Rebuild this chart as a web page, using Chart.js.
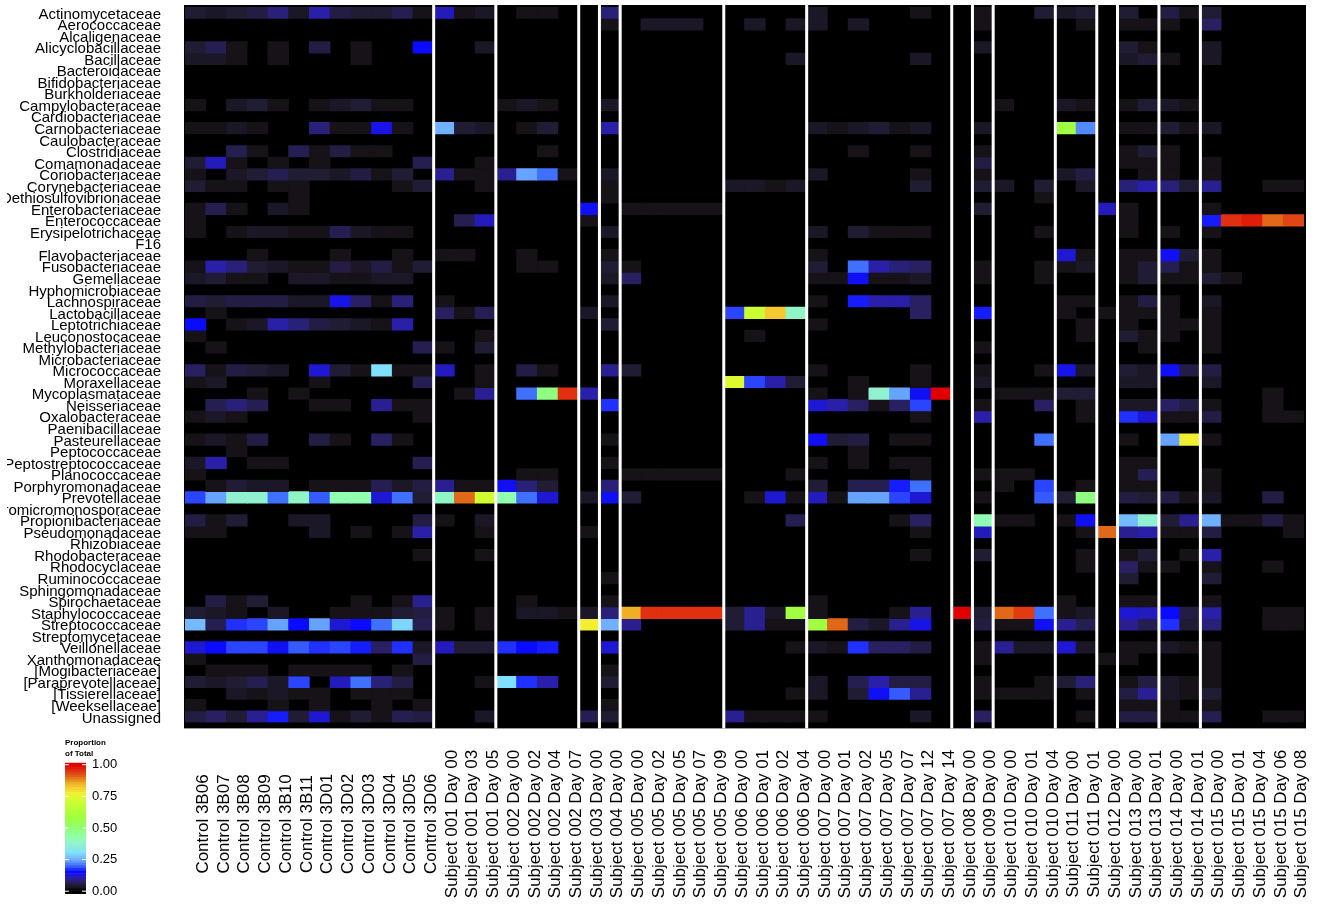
<!DOCTYPE html>
<html>
<head>
<meta charset="utf-8">
<style>
  html, body { margin: 0; padding: 0; background: #fff; }
  canvas { position: absolute; }
  #heatmap { left: 7px; top: 0; }
  #colorbar { left: 0; top: 730px; }
</style>
<script src="https://cdn.jsdelivr.net/npm/chart.js@4"></script>
</head>
<body>
<canvas id="heatmap" width="1326" height="924"></canvas>
<canvas id="colorbar" width="170" height="190"></canvas>
<script>
const families = ["Actinomycetaceae","Aerococcaceae","Alcaligenaceae","Alicyclobacillaceae","Bacillaceae","Bacteroidaceae","Bifidobacteriaceae","Burkholderiaceae","Campylobacteraceae","Cardiobacteriaceae","Carnobacteriaceae","Caulobacteraceae","Clostridiaceae","Comamonadaceae","Coriobacteriaceae","Corynebacteriaceae","Dethiosulfovibrionaceae","Enterobacteriaceae","Enterococcaceae","Erysipelotrichaceae","F16","Flavobacteriaceae","Fusobacteriaceae","Gemellaceae","Hyphomicrobiaceae","Lachnospiraceae","Lactobacillaceae","Leptotrichiaceae","Leuconostocaceae","Methylobacteriaceae","Microbacteriaceae","Micrococcaceae","Moraxellaceae","Mycoplasmataceae","Neisseriaceae","Oxalobacteraceae","Paenibacillaceae","Pasteurellaceae","Peptococcaceae","Peptostreptococcaceae","Planococcaceae","Porphyromonadaceae","Prevotellaceae","Promicromonosporaceae","Propionibacteriaceae","Pseudomonadaceae","Rhizobiaceae","Rhodobacteraceae","Rhodocyclaceae","Ruminococcaceae","Sphingomonadaceae","Spirochaetaceae","Staphylococcaceae","Streptococcaceae","Streptomycetaceae","Veillonellaceae","Xanthomonadaceae","[Mogibacteriaceae]","[Paraprevotellaceae]","[Tissierellaceae]","[Weeksellaceae]","Unassigned"];

const samples = ["Control 3B06","Control 3B07","Control 3B08","Control 3B09","Control 3B10","Control 3B11","Control 3D01","Control 3D02","Control 3D03","Control 3D04","Control 3D05","Control 3D06",
  "Subject 001 Day 00","Subject 001 Day 03","Subject 001 Day 05",
  "Subject 002 Day 00","Subject 002 Day 02","Subject 002 Day 04","Subject 002 Day 07",
  "Subject 003 Day 00","Subject 004 Day 00",
  "Subject 005 Day 00","Subject 005 Day 02","Subject 005 Day 05","Subject 005 Day 07","Subject 005 Day 09",
  "Subject 006 Day 00","Subject 006 Day 01","Subject 006 Day 02","Subject 006 Day 04",
  "Subject 007 Day 00","Subject 007 Day 01","Subject 007 Day 02","Subject 007 Day 05","Subject 007 Day 07","Subject 007 Day 12","Subject 007 Day 14",
  "Subject 008 Day 00","Subject 009 Day 00",
  "Subject 010 Day 00","Subject 010 Day 01","Subject 010 Day 04",
  "Subject 011 Day 00","Subject 011 Day 01","Subject 012 Day 00",
  "Subject 013 Day 00","Subject 013 Day 01","Subject 014 Day 00","Subject 014 Day 01",
  "Subject 015 Day 00","Subject 015 Day 01","Subject 015 Day 04","Subject 015 Day 06","Subject 015 Day 08"];

// first column of every group, a white rule goes in front of it
const groupStarts = [12,15,19,20,21,26,30,37,38,39,42,44,45,47,49];

// percent of total per family, sample index: value, empty cells left out
const rowPercents = [
  {0:4,1:3,2:4,3:5,4:8,5:3,6:10,7:5,8:4,9:4,10:6,11:2,12:11,13:2,14:3,16:2,17:2,20:8,30:3,35:2,38:2,41:4,42:3,43:4,45:4,47:5,48:2,49:4},
  {20:2,22:3,23:3,24:3,27:3,29:3,30:3,32:3,38:2,43:2,45:2,46:2,47:2,49:7},
  {},
  {0:4,1:6,2:2,4:2,6:5,8:2,11:15,14:3,38:3,45:4,46:2,49:3},
  {0:3,1:3,2:2,4:2,8:2,29:3,35:3,45:3,46:4,47:2,49:3},
  {},
  {},
  {},
  {0:2,2:3,3:4,4:2,6:2,7:3,8:4,9:2,10:2,15:2,16:3,17:2,20:3,39:2,42:3,43:2,45:2,46:4,47:3,48:2},
  {},
  {0:2,1:2,2:3,3:2,6:8,7:2,8:2,9:13,10:2,12:25,13:4,14:3,16:2,17:4,20:10,30:3,31:2,32:3,33:4,34:2,35:3,38:3,42:58,43:22,45:2,46:2,47:4,48:2,49:3},
  {},
  {2:6,3:2,5:6,6:2,7:5,8:2,9:2,17:2,32:2,35:2,38:2,45:2,46:4,47:2},
  {0:4,1:11,2:2,4:2,6:2,11:6,14:2,38:5,45:2,46:2,47:2,49:2},
  {0:2,2:3,3:4,4:6,5:4,6:4,7:3,8:5,9:2,10:4,12:9,13:2,14:2,15:9,16:24,17:20,18:2,20:3,30:3,35:2,38:2,42:3,43:5,46:2,47:2,49:2},
  {0:4,1:2,2:2,4:2,5:2,10:2,11:4,14:2,20:2,26:3,27:3,28:2,29:3,35:4,38:4,39:3,41:4,43:3,45:8,46:10,47:8,48:4,49:9,52:2,53:2},
  {5:2,20:2,41:2},
  {0:2,1:6,2:2,4:3,5:2,19:14,21:2,22:2,23:2,24:2,25:2,38:4,44:11,45:2,49:2},
  {0:2,13:6,14:11,19:2,45:2,49:16,50:95,51:97,52:90,53:93},
  {0:2,2:2,3:3,4:3,5:2,6:2,7:6,8:3,9:2,10:2,20:3,30:3,32:4,33:2,34:2,35:2,41:2,45:2,47:2,49:2},
  {},
  {3:2,7:2,10:2,12:2,13:2,16:2,20:2,30:2,42:12,43:2,45:2,46:2,47:14,48:4,49:2},
  {0:2,1:10,2:8,3:4,4:3,5:2,6:2,7:5,8:3,9:5,10:2,11:4,16:2,17:2,20:4,21:2,30:4,32:20,33:10,34:8,35:7,38:2,41:2,42:2,43:3,45:2,46:4,47:6,48:2,49:2},
  {0:3,1:4,2:2,3:2,5:3,6:3,7:2,8:2,9:3,10:3,20:3,21:7,30:2,31:2,32:14,33:2,34:2,35:3,38:2,41:2,45:2,46:4,47:2,48:2,49:4,50:2},
  {},
  {0:5,1:4,2:5,3:5,4:5,5:3,6:3,7:13,8:7,9:2,10:8,12:2,20:3,30:2,32:16,33:10,34:10,35:7,42:2,43:2,45:2,46:5,47:2,49:3},
  {1:2,12:7,13:2,14:6,19:3,26:18,27:70,28:82,29:38,35:7,38:16,42:2,44:2,45:2,46:2,47:2,49:2},
  {0:15,2:2,3:3,4:10,5:8,6:5,7:4,8:3,9:2,10:10,20:4,30:2,43:2,45:2,47:2,48:2,49:2},
  {0:2,14:2,27:2,43:2,45:4,46:2,47:2,49:2},
  {1:2,11:6,12:2,14:4,38:2,46:2,49:2},
  {},
  {0:7,1:2,2:5,3:4,4:3,6:12,7:4,8:2,9:30,10:2,11:2,12:11,14:2,16:5,17:2,20:9,21:4,30:2,35:2,38:2,41:2,42:13,43:3,45:4,46:3,47:14,48:5,49:5},
  {0:2,1:3,6:2,11:6,14:2,26:74,27:18,28:10,29:4,32:2,35:2,38:3,45:3,46:3,49:3},
  {3:2,5:2,13:2,14:9,16:20,17:48,18:95,19:10,30:2,32:2,33:36,34:24,35:14,36:100,39:2,40:2,41:2,42:4,43:4,52:2},
  {1:6,2:8,3:6,6:2,7:2,9:9,10:2,11:2,20:17,30:12,31:10,32:7,33:2,34:7,35:18,38:2,41:7,43:2,45:3,46:3,47:7,48:5,49:2,52:2},
  {0:2,1:3,2:2,11:2,35:2,38:10,43:2,45:17,46:12,47:2,48:2,49:5,52:2,53:2},
  {},
  {0:2,1:3,2:2,3:5,6:5,7:2,9:7,10:2,20:2,30:14,31:4,32:5,34:2,35:2,41:20,45:2,47:24,48:77,49:2},
  {2:2,32:2},
  {0:3,1:10,3:2,4:2,11:6,20:2,30:2,32:2,34:2,35:2,45:2,46:2},
  {0:2,16:2,17:2,21:2,22:2,23:2,24:2,25:2,29:2,35:2,38:2,39:2,40:2,45:2,46:6,49:2},
  {1:2,2:4,3:3,4:3,6:2,7:2,8:2,9:6,10:3,11:5,12:9,13:2,14:2,15:14,16:8,17:4,20:8,30:4,32:6,33:6,34:16,35:20,39:2,41:18,43:2,45:2,46:2,49:2},
  {0:18,1:24,2:36,3:36,4:20,5:38,6:19,7:42,8:42,9:12,10:20,11:4,12:38,13:90,14:72,15:42,16:20,17:12,19:3,20:14,21:4,27:2,28:12,29:2,30:11,31:2,32:24,33:24,34:18,35:12,38:2,41:19,42:4,43:48,45:5,46:4,47:5,48:2,49:3,52:5},
  {},
  {0:5,1:2,2:4,5:3,6:3,11:5,12:2,14:3,29:6,34:2,35:7,38:41,39:2,40:2,42:2,43:14,45:26,46:36,47:4,48:9,49:25,50:2,51:2,52:5,53:2},
  {0:2,1:2,6:3,8:2,10:2,11:10,14:2,19:2,35:2,38:11,43:2,44:90,45:9,46:10,47:2,48:2,49:5,53:2},
  {},
  {11:2,14:2,35:2,38:4,43:2,45:2,46:4,48:2,49:10},
  {43:2,45:7,46:2,47:2,49:2,52:2},
  {20:2,45:4,49:4},
  {},
  {1:5,2:2,3:4,8:2,10:2,11:9,16:2,20:2,30:2,42:2,45:2,46:2,49:2},
  {0:4,1:3,2:2,4:3,7:2,8:2,9:2,10:4,11:5,12:2,14:2,16:3,17:3,18:2,19:3,20:8,21:85,22:95,23:95,24:95,25:95,26:4,27:9,28:3,29:58,30:2,34:2,35:9,37:100,38:4,39:90,40:94,41:20,42:2,43:3,45:12,46:11,47:15,48:5,49:10,52:2,53:2},
  {0:26,1:6,2:17,3:18,4:24,5:15,6:24,7:12,8:15,9:20,10:29,11:6,12:2,14:2,19:77,20:25,21:9,26:4,27:9,28:2,29:2,30:58,31:90,32:5,33:3,34:9,35:13,38:5,39:2,40:2,41:14,42:9,43:6,45:9,46:6,47:17,48:4,49:8,52:2,53:2},
  {},
  {0:12,1:15,2:18,3:18,4:14,5:19,6:17,7:18,8:16,9:7,10:17,11:3,12:11,13:4,14:4,15:17,16:15,17:16,20:12,29:2,30:3,31:2,32:17,33:7,34:7,35:5,38:2,39:9,40:3,41:3,42:12,43:3,45:2,46:2,47:3,48:2,49:2},
  {0:2,11:5,38:2,44:2,45:2,49:2},
  {1:2,2:2,3:2,5:2,6:2,7:2,8:2,10:2,20:2,49:2},
  {0:4,1:3,2:4,3:6,4:3,5:18,7:11,8:20,9:8,10:5,14:2,15:30,16:17,17:10,20:4,30:3,32:6,33:10,34:5,35:5,38:2,41:2,42:4,43:8,45:2,46:5,47:3,48:2,49:2},
  {2:3,3:2,4:3,5:2,6:2,8:2,9:2,10:2,29:2,30:3,32:4,33:14,34:19,35:9,38:2,39:2,40:2,41:2,43:2,45:5,46:9,47:3,48:2,49:4},
  {0:2,4:2,6:2,9:2,11:2,20:2,45:2,46:2,47:2,49:2},
  {0:5,1:7,2:4,3:9,4:16,5:4,6:12,7:2,8:4,9:2,10:6,11:5,14:3,19:6,20:4,26:9,27:2,28:2,29:2,30:2,35:3,38:7,43:2,45:5,46:5,47:2,48:2,49:6,52:2,53:2}
];

const colorbarTicks = [0, 0.25, 0.5, 0.75, 1];
const colorbarLevels = [-2,0,2,4,6,8,10,12,14,16,18,20,22,24,26,28,30,32,34,36,38,40,42,44,46,48,50,52,54,56,58,60,62,64,66,68,70,72,74,76,78,80,82,84,86,88,90,92,94,96,98,100];

// palette: [percent, r, g, b]
const palette = [
  [0,0,0,0],[2,22,18,23],[4,32,28,52],[7,40,32,96],[10,42,31,168],[13,24,20,232],[15,10,10,255],
  [17,32,48,255],[20,64,112,255],[25,112,176,255],[30,128,224,255],[36,144,240,208],[42,144,255,176],
  [50,144,255,112],[58,160,255,64],[72,208,255,48],[77,240,240,48],[82,245,200,48],[86,235,165,35],
  [90,224,104,24],[95,224,48,16],[100,224,0,0]
];

const colorFor = (pct) => {
  let i = 1;
  while (i < palette.length - 1 && palette[i][0] < pct) i++;
  const a = palette[i - 1], b = palette[i];
  const t = Math.min(1, Math.max(0, (pct - a[0]) / (b[0] - a[0])));
  const mix = (k) => Math.round(a[k] + (b[k] - a[k]) * t);
  return `rgb(${mix(1)},${mix(2)},${mix(3)})`;
};

const labelFont = "'Liberation Sans', Arial, sans-serif";

// black panel behind the cells, a bit larger than the cells themselves
const panelBackground = {
  id: "panelBackground",
  beforeDatasetsDraw(chart) {
    const { ctx, chartArea: a } = chart;
    ctx.save();
    ctx.fillStyle = "#000";
    ctx.fillRect(a.left - 1, a.top - 2, a.right - a.left + 3, a.bottom - a.top + 8);
    ctx.restore();
  }
};

const groupRules = {
  id: "groupRules",
  afterDatasetsDraw(chart) {
    const { ctx, chartArea: a, scales: { x } } = chart;
    const step = x.getPixelForValue(1) - x.getPixelForValue(0);
    ctx.save();
    ctx.fillStyle = "#fff";
    groupStarts.forEach(col => {
      const px = x.getPixelForValue(col) - step / 2;
      ctx.fillRect(px - 1.5, a.top - 2, 3, a.bottom - a.top + 8);
    });
    ctx.restore();
  }
};

// sample names are centred on one line under the panel, the axis can only right align rotated ticks
const centredSampleLabels = {
  id: "centredSampleLabels",
  afterDraw(chart) {
    const { ctx, scales: { x } } = chart;
    ctx.save();
    ctx.font = "17px " + labelFont;
    ctx.fillStyle = "#000";
    ctx.textAlign = "center";
    ctx.textBaseline = "middle";
    samples.forEach((name, i) => {
      ctx.save();
      ctx.translate(x.getPixelForValue(i) + 8, 824);
      ctx.rotate(-Math.PI / 2);
      ctx.fillText(name, 0, 0);
      ctx.restore();
    });
    ctx.restore();
  }
};

new Chart(document.getElementById("heatmap").getContext("2d"), {
  type: "bar",
  plugins: [panelBackground, groupRules, centredSampleLabels],
  data: {
    labels: samples,
    datasets: families.map((name, row) => ({
      label: name,
      data: samples.map((_, col) => rowPercents[row][col] === undefined ? null : [row, row + 1]),
      backgroundColor: samples.map((_, col) => colorFor(rowPercents[row][col] || 0)),
      borderWidth: 0,
      barPercentage: 1,
      categoryPercentage: 1,
      grouped: false
    }))
  },
  options: {
    responsive: false,
    animation: false,
    layout: { padding: { top: 7, right: 29, left: 0, bottom: 0 } },
    plugins: { legend: { display: false }, tooltip: { enabled: false } },
    scales: {
      x: {
        type: "category",
        grid: { display: false },
        border: { display: false },
        ticks: { display: false, autoSkip: false },
        afterFit(scale) { scale.height = 201.6; }
      },
      y: {
        type: "linear",
        min: 0,
        max: 62,
        reverse: true,
        grid: { display: false, drawTicks: false },
        border: { display: false },
        // labels sit slightly under the middle of their row
        afterBuildTicks(scale) { scale.ticks = families.map((_, i) => ({ value: i + 0.65 })); },
        afterFit(scale) {
          scale.width = 178;
          scale.paddingTop = 0;
          scale.paddingBottom = 0;
        },
        ticks: {
          autoSkip: false,
          padding: 24,
          color: "#000",
          font: { family: labelFont, size: 15 },
          callback: (v) => families[Math.floor(v)]
        }
      }
    }
  }
});

const colorbarTickMarks = {
  id: "colorbarTickMarks",
  afterDatasetsDraw(chart) {
    const { ctx, chartArea: a, scales: { y } } = chart;
    ctx.save();
    ctx.fillStyle = "#fff";
    colorbarTicks.forEach(v => {
      const py = y.getPixelForValue(v);
      ctx.fillRect(a.left, py - 0.5, 4, 1);
      ctx.fillRect(a.right - 4, py - 0.5, 4, 1);
    });
    ctx.restore();
  }
};

new Chart(document.getElementById("colorbar").getContext("2d"), {
  type: "bar",
  plugins: [colorbarTickMarks],
  data: {
    labels: ["Proportion"],
    datasets: colorbarLevels.map(pct => ({
      data: [[pct / 100, (pct + 2) / 100]],
      backgroundColor: colorFor(pct + 1),
      borderWidth: 0,
      barPercentage: 1,
      categoryPercentage: 1,
      grouped: false
    }))
  },
  options: {
    responsive: false,
    animation: false,
    layout: { padding: { top: 8, left: 65, right: 0, bottom: 18 } },
    plugins: {
      legend: { display: false },
      tooltip: { enabled: false },
      title: {
        display: true,
        align: "start",
        text: ["Proportion", "of Total"],
        color: "#000",
        padding: { top: 0, bottom: 4 },
        font: { family: labelFont, size: 8, weight: "bold", lineHeight: 1.3 }
      }
    },
    scales: {
      x: { grid: { display: false }, border: { display: false }, ticks: { display: false } },
      y: {
        position: "right",
        min: -0.022,
        max: 1.015,
        grid: { display: false, drawTicks: false },
        border: { display: false },
        afterBuildTicks(scale) { scale.ticks = colorbarTicks.map(v => ({ value: v })); },
        afterFit(scale) {
          scale.width = 84;
          scale.paddingTop = 0;
          scale.paddingBottom = 0;
        },
        ticks: {
          padding: 6,
          color: "#000",
          font: { family: labelFont, size: 13 },
          callback: (v) => v.toFixed(2)
        }
      }
    }
  }
});
</script>
</body>
</html>
